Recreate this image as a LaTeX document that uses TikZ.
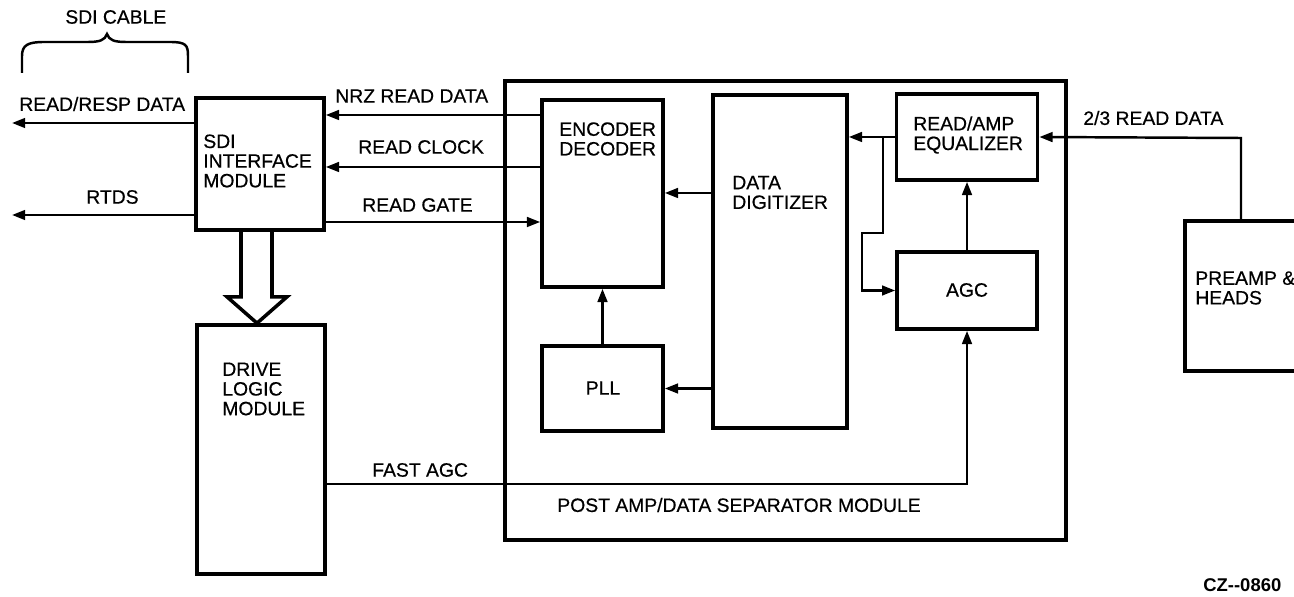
\documentclass[tikz,border=0pt]{standalone}
\usepackage{fontspec}
\setmainfont{Liberation Sans}
\newfontfamily\medfont[FakeBold=0.5]{Liberation Sans}
\usetikzlibrary{arrows.meta,calc}
\begin{document}
\begin{tikzpicture}[x=0.02cm,y=-0.02cm,
  box/.style={draw, line width=2.1pt, inner sep=0pt},
  lbl/.style={inner sep=0pt, anchor=west, align=left, font=\medfont\fontsize{11}{11.2}\selectfont},
  clbl/.style={inner sep=0pt, font=\medfont\fontsize{11}{11.2}\selectfont},
  conn/.style={line width=1.4pt},
  arr/.style={conn, -{Triangle[length=7.5pt,width=5.5pt]}},
  bus/.style={line width=2pt, line join=miter}]
\clip (0,0) rectangle (1294,597);
\fill[white] (0,0) rectangle (1294,597);

% boxes
\node[box, line width=1.8pt, minimum width=11.22cm, minimum height=9.18cm] (big) at (785.5,310.5) {};
\node[box, minimum width=2.56cm, minimum height=2.64cm] (sdi) at (260,164) {};
\node[box, minimum width=2.56cm, minimum height=4.98cm] (dlm) at (261,449.5) {};
\node[box, minimum width=2.42cm, minimum height=3.74cm] (enc) at (602.5,193.5) {};
\node[box, minimum width=2.42cm, minimum height=1.70cm] (pll) at (602.5,388.5) {};
\node[box, minimum width=2.68cm, minimum height=6.66cm] (dig) at (780,261.5) {};
\node[box, minimum width=2.82cm, minimum height=1.72cm] (eq) at (967,137) {};
\node[box, minimum width=2.80cm, minimum height=1.54cm] (agc) at (967,290.5) {};
\node[box, minimum width=3.0cm, minimum height=3.0cm] (pre) at (1260,296) {};

% box texts
\node[lbl] (sdit) at (203,161) {SDI\\INTERFACE\\MODULE};
\node[lbl] (dlmt) at (222,389) {DRIVE\\LOGIC\\MODULE};
\node[lbl] (enct) at (559,139) {ENCODER\\DECODER};
\node[lbl] (digt) at (732,192.5) {DATA\\DIGITIZER};
\node[lbl] (eqt) at (913,135) {READ/AMP\\EQUALIZER};
\node[lbl] (pret) at (1195,288) {PREAMP \&\\HEADS};
\node[clbl] (agct) at (967,290) {AGC};
\node[clbl] (pllt) at (603,388) {PLL};
\node[lbl] (bigt) at (557,505) {POST AMP/DATA SEPARATOR MODULE};

% connector labels
\node[lbl] (cable) at (65,17) {SDI CABLE};
\node[lbl] (rrl) at (19,104) {READ/RESP DATA};
\node[lbl] (rtl) at (86,197) {RTDS};
\node[lbl] (nrzl) at (335,96) {NRZ READ DATA};
\node[lbl] (rcl) at (358,147) {READ CLOCK};
\node[lbl] (rgl) at (362,205) {READ GATE};
\node[lbl] (r23l) at (1083,118) {2/3 READ DATA};
\node[lbl] (fagl) at (372,470) {FAST AGC};
\node[inner sep=0pt, anchor=west, font=\bfseries\fontsize{10.5}{11}\selectfont] (cz) at (1203,585) {CZ-{}-0860};

% brace
\draw[line width=1.4pt] (22,73) -- (22,56) .. controls (22,45) and (28,42) .. (44,42) -- (88,42)
  .. controls (100,42) and (105,40) .. (107,34) .. controls (109,40) and (114,42) .. (126,42)
  -- (170,42) .. controls (186,42) and (188,45) .. (188,56) -- (188,73);

% connectors
\coordinate (rr) at (12,123);
\coordinate (rt) at (12,215);
\draw[arr] (sdi.west |- rr) -- (rr);
\draw[arr] (sdi.west |- rt) -- (rt);
\draw[arr] (enc.west |- 0,115) -- (sdi.east |- 0,115);
\draw[arr] (enc.west |- 0,167) -- (sdi.east |- 0,167);
\draw[arr] (sdi.east |- 0,222) -- (enc.west |- 0,222);
\draw[arr] (dig.west |- 0,193) -- (enc.east |- 0,193);
\draw[arr] (pll) -- (enc);
\draw[arr] (dig.west |- pll) -- (pll.east);
\draw[arr] (eq.west) -- (dig.east |- eq.west);
\coordinate (j1) at (883,137);
\draw[arr] (j1) -- (883,233) -- (862,233) -- (862,290.5) -- (agc.west);
\draw[arr] (agc) -- (eq);
\draw[arr] (dlm.east |- 0,484) -- (967,484) -- (agc.south);
\draw[arr] (1241,0 |- pre.north) -- (1241,138) -- (eq.east);

% bus arrow
\draw[bus] ($(sdi.south)+(-19,0)$) -- ++(0,65) -- ++(-14,0) -- ($(dlm.north)+(-4,0)$)
  -- ($(sdi.south)+(27,65)$) -- ++(-15,0) -- ++(0,-65);
\end{tikzpicture}
\end{document}
